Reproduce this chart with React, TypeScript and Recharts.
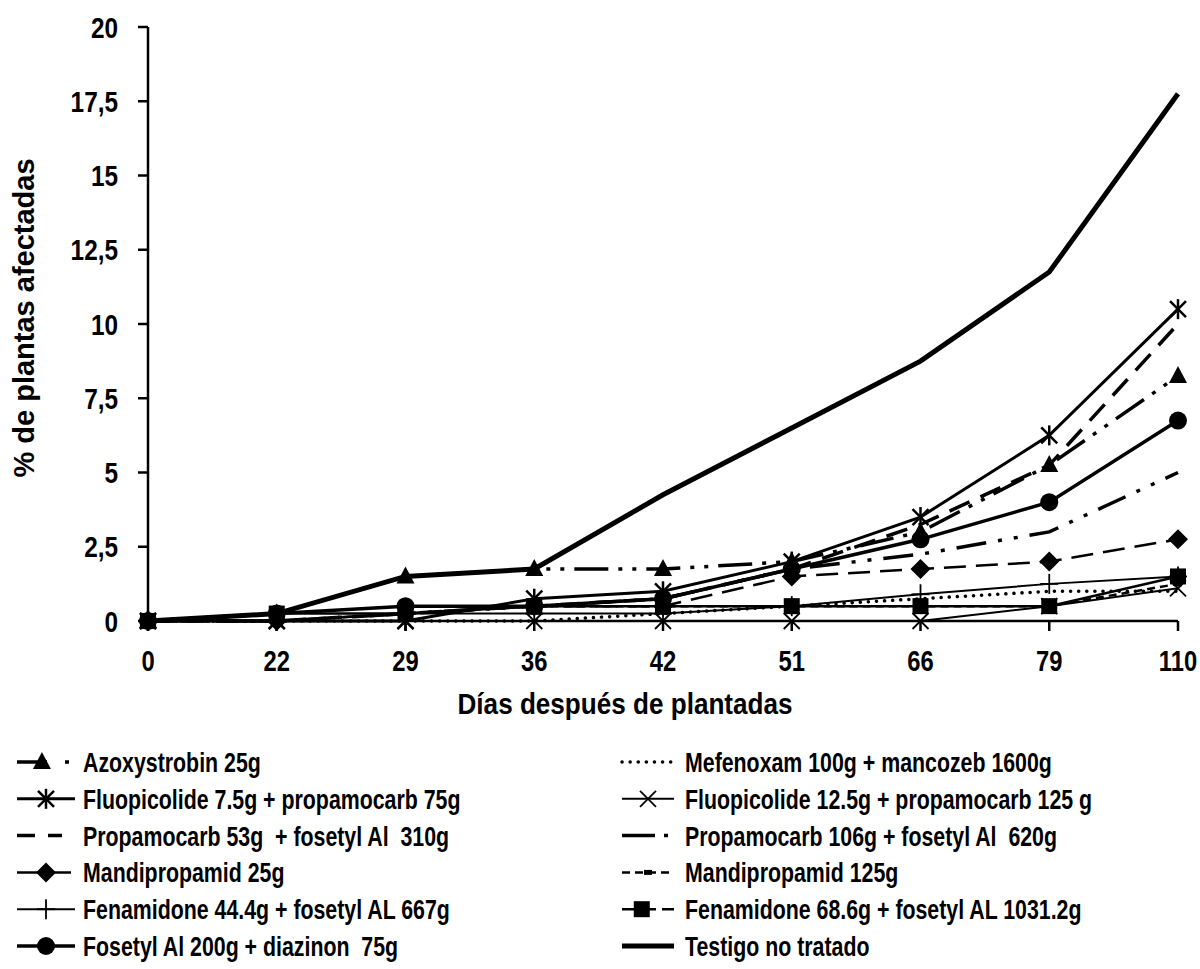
import React from "react";
import { Line, LineChart, XAxis, YAxis } from "recharts";

const days = ["0", "22", "29", "36", "42", "51", "66", "79", "110"];
const yTicks = [0, 2.5, 5, 7.5, 10, 12.5, 15, 17.5, 20];

const azoxy = [0, 0.25, 1.5, 1.75, 1.75, 2, 3, 5.25, 8.25];
const fluo75 = [0, 0, 0, 0.75, 1, 2, 3.5, 6.25, 10.5];
const prop53 = [0, 0, 0.25, 0.5, 0.75, 1.75, 3.25, 5.25, 10];
const mandi25 = [0, 0, 0.25, 0.5, 0.5, 1.5, 1.75, 2, 2.75];
const fena44 = [0, 0, 0.25, 0.25, 0.25, 0.5, 0.9, 1.25, 1.5];
const fosetyl = [0, 0.25, 0.5, 0.5, 0.75, 1.75, 2.75, 4, 6.75];
const mefen = [0, 0, 0, 0, 0.25, 0.5, 0.75, 1, 1];
const fluo125 = [0, 0, 0, 0, 0, 0, 0, 0.5, 1.1];
const prop106 = [0, 0, 0.25, 0.5, 0.75, 1.75, 2.25, 3, 5];
const mandi125 = [0, 0, 0.25, 0.5, 0.5, 0.5, 0.5, 0.5, 1.25];
const fena68 = [0, 0.25, 0.25, 0.5, 0.5, 0.5, 0.5, 0.5, 1.5];
const testigo = [0, 0.25, 1.5, 1.75, 4.25, 6.5, 8.75, 11.75, 17.75];

const FONT = '"Liberation Sans", Arial, sans-serif';

type MarkerProps = { cx?: number; cy?: number };
type MarkerFn = (p: MarkerProps) => React.ReactElement | null;

const Triangle: MarkerFn = ({ cx = 0, cy = 0 }) => (
  <path d={`M${cx},${cy - 10} L${cx + 9},${cy + 7} L${cx - 9},${cy + 7} Z`} fill="#000" />
);
const Star: MarkerFn = ({ cx = 0, cy = 0 }) => (
  <g stroke="#000" strokeWidth={2.5}>
    <line x1={cx} y1={cy - 10} x2={cx} y2={cy + 10} />
    <line x1={cx - 8} y1={cy - 8} x2={cx + 8} y2={cy + 8} />
    <line x1={cx - 8} y1={cy + 8} x2={cx + 8} y2={cy - 8} />
  </g>
);
const Diamond: MarkerFn = ({ cx = 0, cy = 0 }) => (
  <path d={`M${cx},${cy - 10} L${cx + 10},${cy} L${cx},${cy + 10} L${cx - 10},${cy} Z`} fill="#000" />
);
const Plus: MarkerFn = ({ cx = 0, cy = 0 }) => (
  <g stroke="#000" strokeWidth={1.8}>
    <line x1={cx} y1={cy - 10} x2={cx} y2={cy + 10} />
    <line x1={cx - 9} y1={cy} x2={cx + 9} y2={cy} />
  </g>
);
const Circle: MarkerFn = ({ cx = 0, cy = 0 }) => <circle cx={cx} cy={cy} r={9} fill="#000" />;
const Cross: MarkerFn = ({ cx = 0, cy = 0 }) => (
  <g stroke="#000" strokeWidth={1.8}>
    <line x1={cx - 8} y1={cy - 8} x2={cx + 8} y2={cy + 8} />
    <line x1={cx - 8} y1={cy + 8} x2={cx + 8} y2={cy - 8} />
  </g>
);
const Square: MarkerFn = ({ cx = 0, cy = 0 }) => (
  <rect x={cx - 8} y={cy - 8} width={16} height={16} fill="#000" />
);
const Tiny: MarkerFn = ({ cx = 0, cy = 0 }) => (
  <rect x={cx - 4} y={cy - 2.5} width={8} height={5} fill="#000" />
);

type Series = {
  key: string;
  name: string;
  values: number[];
  width: number;
  dash?: string;
  cap?: "round" | "butt";
  marker?: MarkerFn;
  legendDash?: string;
  legendMarkerAt?: number;
};

const series: Series[] = [
  { key: "azoxy", name: "Azoxystrobin 25g", values: azoxy, width: 3.5, dash: "34 10 4 10 4 10", marker: Triangle, legendDash: "30 18 4 20", legendMarkerAt: 0.43 },
  { key: "fluo75", name: "Fluopicolide 7.5g + propamocarb 75g", values: fluo75, width: 3, marker: Star },
  { key: "prop53", name: "Propamocarb 53g  + fosetyl Al  310g", values: prop53, width: 3.5, dash: "22 12", legendDash: "18 13 14 30" },
  { key: "mandi25", name: "Mandipropamid 25g", values: mandi25, width: 2.5, dash: "22 10", marker: Diamond, legendDash: "54 20" },
  { key: "fena44", name: "Fenamidone 44.4g + fosetyl AL 667g", values: fena44, width: 2, marker: Plus },
  { key: "fosetyl", name: "Fosetyl Al 200g + diazinon  75g", values: fosetyl, width: 3.5, marker: Circle },
  { key: "mefen", name: "Mefenoxam 100g + mancozeb 1600g", values: mefen, width: 3.5, dash: "0.1 8", cap: "round" },
  { key: "fluo125", name: "Fluopicolide 12.5g + propamocarb 125 g", values: fluo125, width: 2, marker: Cross },
  { key: "prop106", name: "Propamocarb 106g + fosetyl Al  620g", values: prop106, width: 3.5, dash: "30 12 4 12 4 12", legendDash: "33 9 4 20" },
  { key: "mandi125", name: "Mandipropamid 125g", values: mandi125, width: 2.5, dash: "8 5", marker: Tiny },
  { key: "fena68", name: "Fenamidone 68.6g + fosetyl AL 1031.2g", values: fena68, width: 2.5, marker: Square, legendDash: "34 6 20 10", legendMarkerAt: 0.38 },
  { key: "testigo", name: "Testigo no tratado", values: testigo, width: 5 },
];

const chartData = days.map((d, i) => {
  const row: Record<string, string | number> = { day: d };
  series.forEach((s) => {
    row[s.key] = s.values[i];
  });
  return row;
});

const fmt = (v: number) => String(v).replace(".", ",");

const textStyle = { fill: "#000", fontWeight: 700, fontFamily: FONT };

function XTick(props: any) {
  const { x, y, payload } = props;
  return (
    <text transform={`translate(${x},${y + 30}) scale(0.82,1)`} textAnchor="middle" fontSize={29} {...textStyle}>
      {payload.value}
    </text>
  );
}

function YTick(props: any) {
  const { x, y, payload } = props;
  return (
    <text transform={`translate(${x},${y + 10.5}) scale(0.84,1)`} textAnchor="end" fontSize={29} {...textStyle}>
      {fmt(payload.value)}
    </text>
  );
}

function XTitle() {
  return (
    <text transform="translate(625,714) scale(0.9,1)" textAnchor="middle" fontSize={29} {...textStyle}>
      Días después de plantadas
    </text>
  );
}

function YTitle() {
  return (
    <text transform="translate(34,318) rotate(-90)" textAnchor="middle" fontSize={29} {...textStyle}>
      % de plantas afectadas
    </text>
  );
}

function LegendItem({ s, x, iconX, iconW, base }: { s: Series; x: number; iconX: number; iconW: number; base: number }) {
  const M = s.marker;
  const cy = base - 10;
  const at = s.legendMarkerAt ?? 0.5;
  return (
    <g>
      <line
        x1={iconX}
        y1={cy}
        x2={iconX + iconW}
        y2={cy}
        stroke="#000"
        strokeWidth={s.width}
        strokeDasharray={s.legendDash ?? s.dash}
        strokeLinecap={s.cap ?? "butt"}
      />
      {M ? <M cx={iconX + iconW * at} cy={cy} /> : null}
      <text transform={`translate(${x},${base}) scale(0.79,1)`} fontSize={27} {...textStyle} style={{ whiteSpace: "pre" }}>
        {s.name}
      </text>
    </g>
  );
}

export default function App() {
  const left = series.slice(0, 6);
  const right = series.slice(6);
  return (
    <div style={{ position: "absolute", left: 0, top: 0, width: 1200, height: 969, background: "#fff", fontFamily: FONT }}>
      <LineChart width={1200} height={730} data={chartData} margin={{ top: 27, right: 22, left: 0, bottom: 0 }}>
        <XAxis
          dataKey="day"
          height={109}
          tickSize={10}
          tickMargin={10}
          stroke="#000"
          strokeWidth={2.5}
          tick={<XTick />}
          label={{ content: () => <XTitle /> }}
        />
        <YAxis
          width={148}
          domain={[0, 20]}
          ticks={yTicks}
          interval={0}
          tickSize={10}
          tickMargin={20}
          stroke="#000"
          strokeWidth={2.5}
          tick={<YTick />}
          label={{ content: () => <YTitle /> }}
        />
        {series.map((s) => {
          const M = s.marker;
          return (
            <Line
              key={s.key}
              dataKey={s.key}
              name={s.name}
              type="linear"
              stroke="#000"
              strokeWidth={s.width}
              strokeDasharray={s.dash}
              strokeLinecap={s.cap ?? "butt"}
              isAnimationActive={false}
              dot={M ? (p: any) => <M key={`${s.key}-${p.index}`} cx={p.cx} cy={p.cy} /> : false}
              activeDot={false}
            />
          );
        })}
      </LineChart>
      <svg width={1200} height={969} style={{ position: "absolute", left: 0, top: 0, pointerEvents: "none" }}>
        {left.map((s, i) => (
          <LegendItem key={s.key} s={s} x={83} iconX={17} iconW={58} base={772 + i * 36.8} />
        ))}
        {right.map((s, i) => (
          <LegendItem key={s.key} s={s} x={685} iconX={622} iconW={52} base={772 + i * 36.8} />
        ))}
      </svg>
    </div>
  );
}
